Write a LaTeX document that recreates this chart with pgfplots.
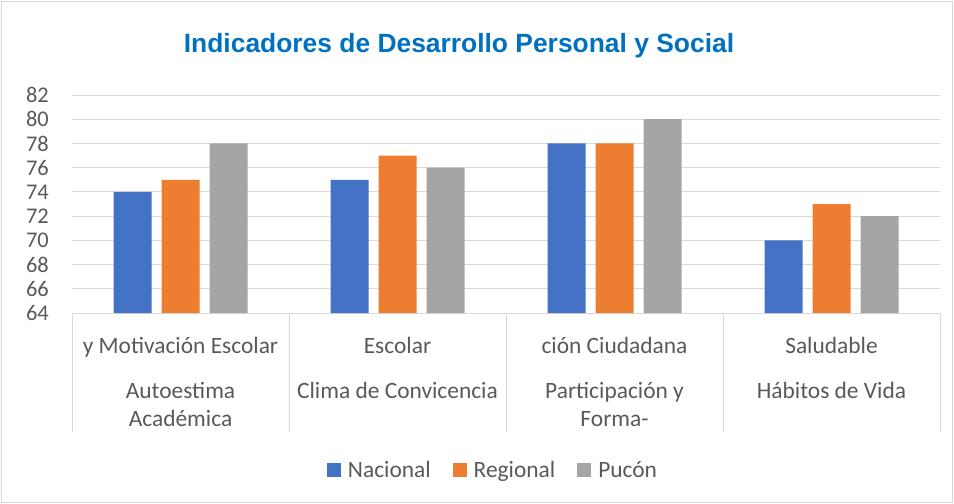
\documentclass[border=0pt]{standalone}
\usepackage{pgfplots}
\pgfplotsset{compat=1.18}
\usepackage{fontspec}
\setmainfont{Carlito}
\newfontfamily\titlefont{Liberation Sans}
\definecolor{cblue}{HTML}{4472C4}
\definecolor{corange}{HTML}{ED7D31}
\definecolor{cgray}{HTML}{A5A5A5}
\definecolor{labelgray}{HTML}{595959}
\definecolor{gridgray}{HTML}{D9D9D9}
\definecolor{titleblue}{HTML}{0070C0}
\begin{document}
\begin{tikzpicture}
\path[use as bounding box] (0,0) rectangle (954bp,-504bp);
\draw[draw=gridgray, line width=1bp] (1.5bp,-1.5bp) rectangle (952.5bp,-502.5bp);
\node[font=\titlefont\bfseries\fontsize{26.5}{30}\selectfont, text=titleblue] at (459bp,-46bp) {Indicadores de Desarrollo Personal y Social};
\begin{axis}[
  at={(72bp,-95bp)}, anchor=north west,
  scale only axis, width=868bp, height=218bp,
  ymin=64, ymax=82, ytick={64,66,...,82},
  xmin=-0.5, xmax=3.5, xtick={0,1,2,3},
  xticklabels={
    {\rule{0pt}{20bp}y Motivación Escolar\\[16bp]Autoestima\\Académica},
    {\rule{0pt}{20bp}Escolar\\[16bp]Clima de Convicencia},
    {\rule{0pt}{20bp}ción Ciudadana\\[16bp]Participación y\\Forma-},
    {\rule{0pt}{20bp}Saludable\\[16bp]Hábitos de Vida}},
  ybar=10bp, bar width=38bp,
  axis x line*=bottom, axis y line*=left,
  x axis line style={-, draw=gridgray, line width=1bp},
  y axis line style={draw=none},
  major tick length=0pt,
  ymajorgrids, major grid style={draw=gridgray, line width=1bp},
  /pgf/number format/assume math mode=true,
  yticklabel style={font=\fontsize{22.5}{26}\selectfont, text=labelgray, anchor=east, inner sep=0pt, xshift=-23bp},
  xticklabel style={font=\fontsize{23.5}{29}\selectfont, text=labelgray, align=center, anchor=north, inner sep=0pt, yshift=-20bp},
  extra x ticks={-0.5,0.5,1.5,2.5,3.5},
  extra x tick labels={},
  extra x tick style={major tick length=119bp, tick align=outside, tick style={draw=gridgray, line width=1bp}},
  legend columns=-1,
  legend style={at={(0.485,-0.72)}, anchor=center, draw=none, fill=none,
    font=\fontsize{23.5}{26}\selectfont, text=labelgray,
    /tikz/every odd column/.append style={column sep=5bp},
    /tikz/every even column/.append style={column sep=20bp}},
  legend image code/.code={\fill[#1] (0bp,-7bp) rectangle (14bp,7bp);},
]
\addplot[fill=cblue, draw=none] coordinates {(0,74) (1,75) (2,78) (3,70)};
\addplot[fill=corange, draw=none] coordinates {(0,75) (1,77) (2,78) (3,73)};
\addplot[fill=cgray, draw=none] coordinates {(0,78) (1,76) (2,80) (3,72)};
\legend{Nacional, Regional, Pucón}
\end{axis}
\end{tikzpicture}
\end{document}
